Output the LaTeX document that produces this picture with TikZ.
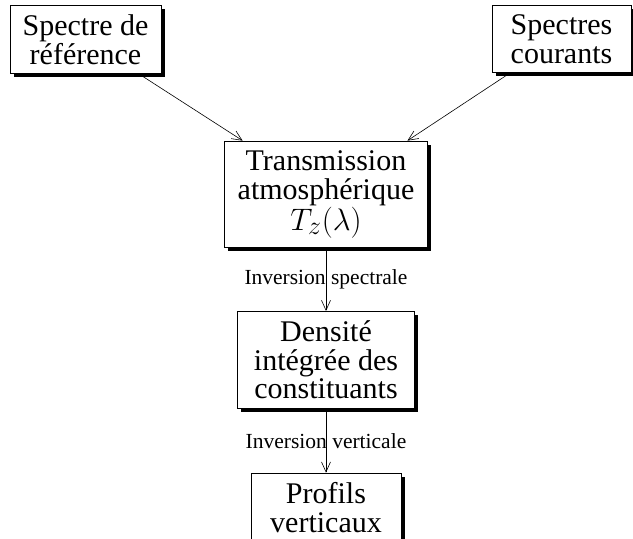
\documentclass[tikz,border=0pt]{standalone}
\usepackage{fontspec}
\usepackage{graphicx}
\setmainfont{Liberation Serif}
\usetikzlibrary{shadows,arrows.meta}
\tikzset{
  boxnode/.style={draw, fill=white, line width=0.8pt, align=center,
    inner xsep=4pt, inner ysep=9.5pt,
    font=\fontsize{30}{28.5}\selectfont,
    general shadow={fill=black, shadow xshift=3.5pt, shadow yshift=-3.5pt}},
  flowarrow/.style={draw, line width=0.6pt, -{Straight Barb[length=10pt,width=9pt,line width=0.6pt]}},
  steplabel/.style={font=\fontsize{21.5}{23}\selectfont, inner sep=0pt}
}
\begin{document}
\begin{tikzpicture}[x=1pt,y=-1pt]
\useasboundingbox (0,0) rectangle (633,539);
\clip (0,0) rectangle (633,539);
\node[boxnode, minimum width=151pt] (ref) at (85.5,39.5) {Spectre de\\référence};
\node[boxnode, minimum width=139pt] (cur) at (561.5,39) {Spectres\\courants};
\node[boxnode, minimum width=203pt] (trans) at (326,194.5) {Transmission\\atmosphérique\\\scalebox{1.25}{$T_z(\lambda)$}};
\node[boxnode, minimum width=177pt] (dens) at (326,360) {Densité\\intégrée des\\constituants};
\node[boxnode, minimum width=150pt] (prof) at (326,507.5) {Profils\\verticaux};
\draw[flowarrow, shorten <=3pt, shorten >=1pt] (ref) -- (trans);
\draw[flowarrow, shorten <=3pt, shorten >=1pt] (cur) -- (trans);
\draw[flowarrow] (trans.south) -- node[steplabel] (l1) {Inversion spectrale} (dens.north);
\draw[flowarrow] (dens.south) -- node[steplabel] (l2) {Inversion verticale} (prof.north);
\end{tikzpicture}
\end{document}
